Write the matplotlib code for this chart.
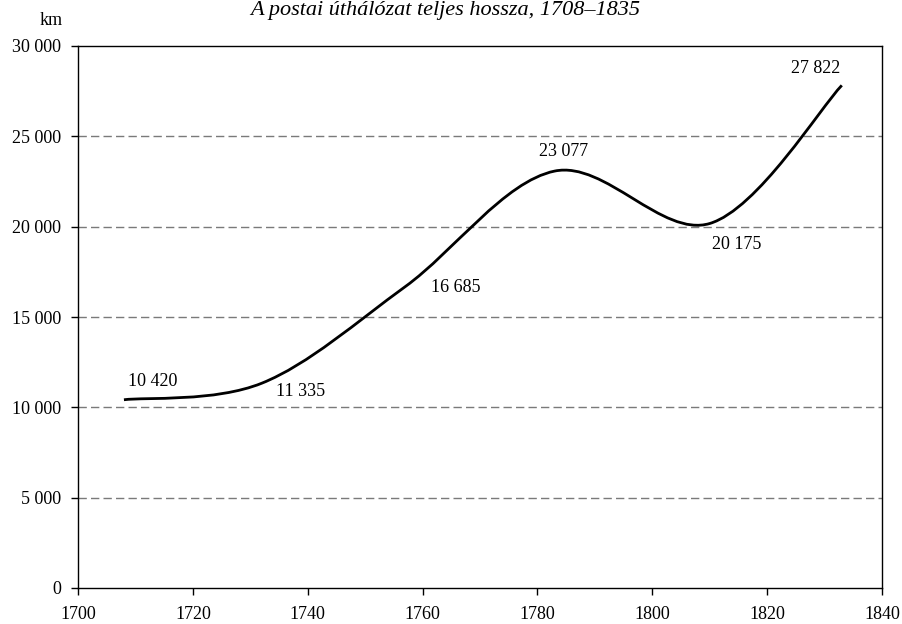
import matplotlib
matplotlib.use('Agg')
import matplotlib.pyplot as plt
from matplotlib.path import Path
from matplotlib.patches import PathPatch
from matplotlib.ticker import FuncFormatter, MultipleLocator

# Adatok: a postai úthálózat hossza (km)
evek = [1708, 1732, 1757, 1783, 1810, 1833]
hossz = [10420, 11335, 16685, 23077, 20175, 27822]
cimke = ['10 420', '11 335', '16 685', '23 077', '20 175', '27 822']
# felirat eltolása pixelben
eltolas = [(29, 18), (39, -8), (50, -1), (9, 20), (27, -21), (-26, 17)]

plt.rcParams['font.family'] = ['Liberation Serif', 'DejaVu Serif']

fig = plt.figure(figsize=(9.03, 6.24), dpi=100)
ax = fig.add_axes([78 / 903, 36 / 624, 804 / 903, 542 / 624])

# simított vonal (Bezier szakaszok, mint az Excelben)
pts = list(zip(evek, hossz))
verts = [pts[0]]
codes = [Path.MOVETO]
for i in range(len(pts) - 1):
    p0 = pts[i - 1] if i > 0 else pts[i]
    p1 = pts[i]
    p2 = pts[i + 1]
    p3 = pts[i + 2] if i + 2 < len(pts) else pts[i + 1]
    c1 = (p1[0] + (p2[0] - p0[0]) / 6, p1[1] + (p2[1] - p0[1]) / 6)
    c2 = (p2[0] - (p3[0] - p1[0]) / 6, p2[1] - (p3[1] - p1[1]) / 6)
    verts += [c1, c2, p2]
    codes += [Path.CURVE4] * 3
ax.add_patch(PathPatch(Path(verts, codes), fill=False, edgecolor='black',
                       lw=2, capstyle='butt', zorder=3))

for x, y, t, off in zip(evek, hossz, cimke, eltolas):
    ax.annotate(t, (x, y), xytext=off, textcoords='offset pixels',
                ha='center', va='center', fontsize=13)

ax.set_xlim(1700, 1840)
ax.set_ylim(0, 30000)
ax.xaxis.set_major_locator(MultipleLocator(20))
ax.yaxis.set_major_locator(MultipleLocator(5000))
ax.yaxis.set_major_formatter(FuncFormatter(lambda v, p: f"{v:,.0f}".replace(',', ' ')))

for g in range(5000, 30000, 5000):
    ax.axhline(g, color='#7a7a7a', lw=1, ls=(0, (6, 3)), zorder=1)

for s in ax.spines.values():
    s.set_linewidth(1)
    s.set_color('black')
ax.tick_params(direction='out', length=5, width=1, labelsize=13, pad=7)
ax.tick_params(axis='x', pad=8)

fig.text(51 / 903, 1 - 25 / 624, 'km', ha='center', va='baseline', fontsize=13)
fig.text(445 / 903, 1 - 15 / 624, 'A postai úthálózat teljes hossza, 1708–1835',
         ha='center', va='baseline', fontsize=16, style='italic')

fig.savefig('out.png', dpi=100)
